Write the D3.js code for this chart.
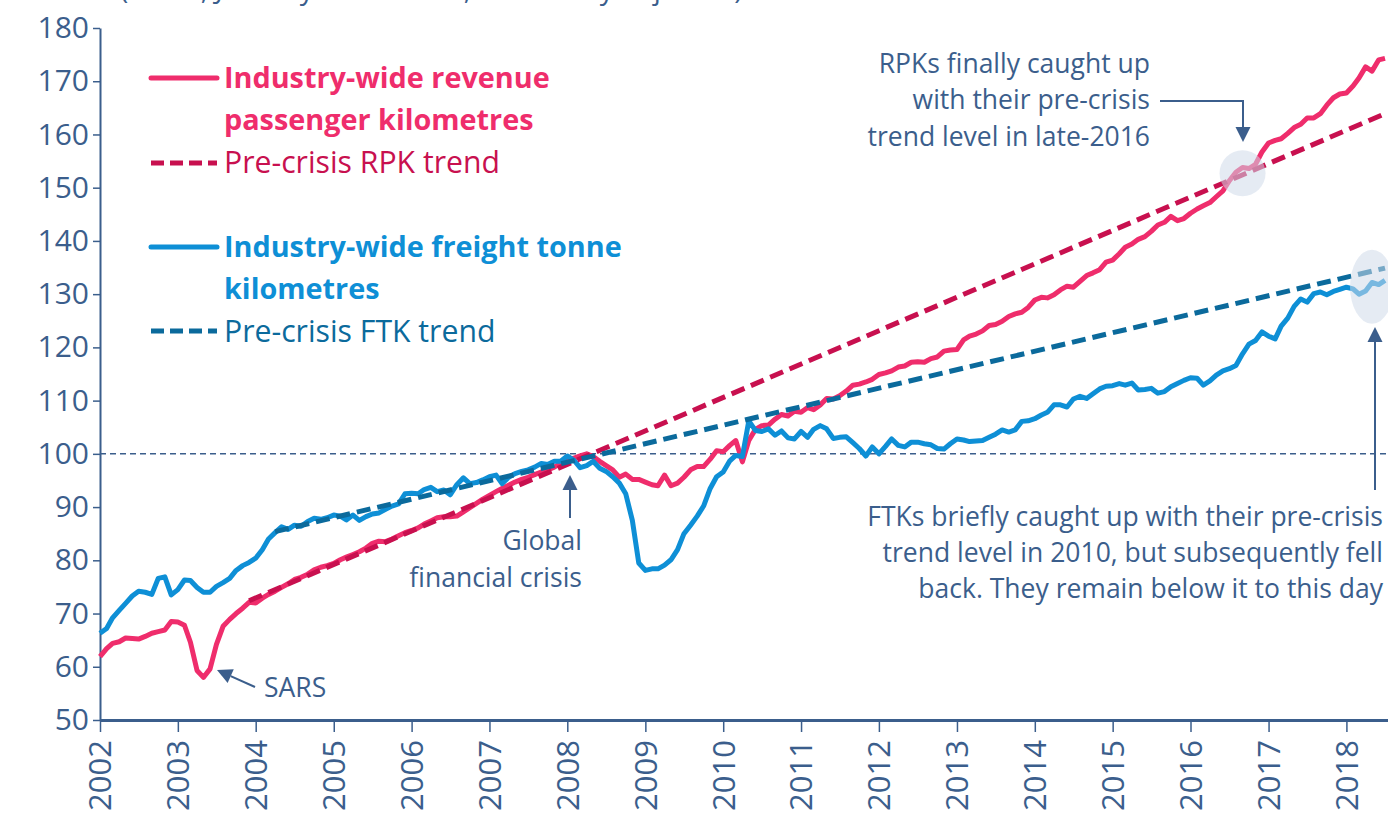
<!DOCTYPE html>
<html>
<head>
<meta charset="utf-8">
<script src="https://cdn.jsdelivr.net/npm/d3@7"></script>
<style>
  body { margin: 0; background: #fff; }
  text { font-family: "Open Sans", sans-serif; }
</style>
</head>
<body>
<script>
// monthly index values, Jan 2002 - Jul 2018 (one row per year)
var rpk = [
  61.9, 63.4, 64.4, 64.7, 65.4, 65.3, 65.2, 65.7, 66.3, 66.6, 66.9, 68.5,
  68.4, 67.8, 64.6, 59.3, 58.0, 59.6, 64.2, 67.6, 68.9, 70.0, 71.0, 72.1,
  72.0, 72.9, 73.6, 74.2, 74.9, 75.6, 76.4, 76.8, 77.4, 78.2, 78.7, 79.0,
  79.4, 80.1, 80.6, 81.1, 81.6, 82.3, 83.2, 83.6, 83.5, 84.0, 84.6, 85.2,
  85.6, 86.1, 86.8, 87.4, 88.0, 88.2, 88.2, 88.3, 89.1, 89.9, 90.7, 91.5,
  92.2, 92.9, 93.5, 94.1, 94.7, 95.2, 95.6, 96.1, 96.6, 97.0, 97.5, 98.2,
  98.8, 99.2, 99.6, 100.0, 99.5, 98.6, 97.8, 97.0, 95.6, 96.2, 95.2, 95.2,
  94.7, 94.2, 94.0, 96.0, 94.0, 94.5, 95.6, 97.0, 97.6, 97.6, 99.0, 100.6,
  100.4, 101.6, 102.5, 98.5, 102.5, 104.6, 105.3, 105.4, 106.5, 107.4, 107.1, 108.0,
  107.8, 108.7, 108.3, 109.2, 110.4, 110.3, 110.9, 111.8, 112.9, 113.1, 113.5, 114.0,
  114.9, 115.2, 115.6, 116.3, 116.5, 117.2, 117.3, 117.2, 117.9, 118.2, 119.3, 119.5,
  119.6, 121.4, 122.1, 122.5, 123.1, 124.1, 124.3, 124.9, 125.8, 126.3, 126.6, 127.5,
  128.9, 129.4, 129.3, 129.9, 130.8, 131.5, 131.3, 132.4, 133.5, 134.0, 134.6, 136.0,
  136.4, 137.6, 138.8, 139.4, 140.3, 140.8, 141.8, 143.0, 143.5, 144.6, 143.8, 144.2,
  145.2, 146.0, 146.6, 147.2, 148.3, 149.4, 151.3, 152.9, 153.8, 153.6, 154.4, 156.7,
  158.4, 158.9, 159.2, 160.2, 161.3, 161.9, 163.1, 163.1, 163.9, 165.5, 166.9, 167.6,
  167.8, 169.1, 170.6, 172.7, 171.9, 174.0, 174.3
];
var ftk = [
  66.3, 67.2, 69.2, 70.6, 71.9, 73.3, 74.2, 74.0, 73.6, 76.6, 76.9, 73.5,
  74.5, 76.3, 76.2, 74.9, 74.0, 74.0, 75.1, 75.8, 76.6, 78.1, 79.0, 79.6,
  80.4, 82.0, 84.0, 85.2, 86.3, 85.8, 86.6, 86.4, 87.3, 87.9, 87.7, 88.0,
  88.5, 88.3, 87.6, 88.5, 87.5, 88.2, 88.7, 88.9, 89.6, 90.2, 90.6, 92.5,
  92.6, 92.5, 93.3, 93.7, 92.9, 93.2, 92.3, 94.2, 95.5, 94.4, 94.6, 95.1,
  95.7, 96.0, 94.4, 95.6, 96.3, 96.7, 97.0, 97.5, 98.2, 98.0, 98.6, 98.6,
  99.6, 98.8, 97.4, 97.8, 98.6, 97.3, 96.7, 95.7, 94.5, 92.5, 87.5, 79.5,
  78.1, 78.4, 78.4, 79.1, 80.1, 82.0, 85.0, 86.6, 88.3, 90.2, 93.5, 95.7,
  96.6, 98.7, 99.7, 99.5, 106.2, 104.4, 104.2, 104.7, 103.5, 104.3, 103.0, 102.8,
  104.2, 103.1, 104.6, 105.3, 104.7, 102.9, 103.1, 103.2, 102.1, 101.0, 99.6, 101.3,
  100.0, 101.4, 102.8, 101.6, 101.3, 102.2, 102.2, 101.9, 101.7, 101.0, 100.9, 101.9,
  102.8, 102.6, 102.3, 102.4, 102.5, 103.1, 103.7, 104.5, 104.1, 104.5, 106.1, 106.2,
  106.6, 107.3, 107.8, 109.2, 109.2, 108.8, 110.3, 110.8, 110.4, 111.3, 112.2, 112.7,
  112.8, 113.2, 112.9, 113.3, 112.0, 112.1, 112.3, 111.4, 111.7, 112.6, 113.2, 113.8,
  114.3, 114.2, 112.9, 113.7, 114.8, 115.6, 116.0, 116.6, 118.8, 120.6, 121.3, 122.9,
  122.1, 121.6, 124.0, 125.5, 127.7, 129.1, 128.5, 130.1, 130.4, 129.9, 130.5, 130.9,
  131.3, 131.0, 130.0, 130.6, 132.2, 131.8, 132.6
];

// pre-crisis trend lines: start and end month, start and end value
var rpkTrendMonths = ["2003-12", "2018-07"];
var rpkTrendValues = [72.4, 163.9];
var ftkTrendMonths = ["2004-04", "2018-07"];
var ftkTrendValues = [85.4, 134.9];

var yTicks = [50, 60, 70, 80, 90, 100, 110, 120, 130, 140, 150, 160, 170, 180];
var yearTicks = [2002, 2003, 2004, 2005, 2006, 2007, 2008, 2009, 2010,
                 2011, 2012, 2013, 2014, 2015, 2016, 2017, 2018];

var months = d3.timeMonth.range(new Date(2002, 0, 1), new Date(2018, 7, 1));
var parseMonth = d3.timeParse("%Y-%m");

//Width and height
var w = 1388;
var h = 815;

var navy = "#3b5e8c";
var pink = "#ef2d6c";
var crimson = "#c8104f";
var blue = "#0e8fd6";
var teal = "#0b6a9c";

var x = d3.scaleTime()
    .domain([new Date(2002, 0, 1), new Date(2018, 6, 15)])
    .range([100, 1388]);

var y = d3.scaleLinear()
    .domain([50, 180])
    .range([720, 28]);

var svg = d3.select("body")
    .append("svg")
    .attr("width", w)
    .attr("height", h);

// title, almost entirely above the visible area
svg.append("text")
    .attr("x", 120)
    .attr("y", -1)
    .attr("font-size", 28)
    .attr("fill", navy)
    .text("(Index, January 2008 = 100, seasonally adjusted)");

// 100 reference line
svg.append("line")
    .attr("x1", x.range()[0]).attr("x2", x.range()[1])
    .attr("y1", y(100)).attr("y2", y(100))
    .attr("stroke", navy)
    .attr("stroke-width", 1.5)
    .attr("stroke-dasharray", "6,4");

// y axis
var yAxis = svg.append("g")
    .attr("transform", "translate(100,0)")
    .call(d3.axisLeft(y).tickValues(yTicks).tickSize(7).tickSizeOuter(0).tickPadding(4));
yAxis.select(".domain").attr("stroke", navy).attr("stroke-width", 2);
yAxis.selectAll(".tick line").attr("stroke", navy).attr("stroke-width", 1.5);
yAxis.selectAll(".tick text")
    .attr("fill", navy)
    .attr("font-size", 30)
    .attr("font-family", "Open Sans");

// x axis
var xAxis = svg.append("g")
    .attr("transform", "translate(0,720)")
    .call(d3.axisBottom(x)
        .tickValues(yearTicks.map(function(d) { return new Date(d, 0, 1); }))
        .tickFormat(d3.timeFormat("%Y"))
        .tickSize(12).tickSizeOuter(0));
xAxis.select(".domain").attr("stroke", navy).attr("stroke-width", 3);
xAxis.selectAll(".tick line").attr("stroke", navy).attr("stroke-width", 1.5);
xAxis.selectAll(".tick text")
    .attr("fill", navy)
    .attr("font-size", 31)
    .attr("font-family", "Open Sans")
    .attr("transform", "rotate(-90)")
    .attr("text-anchor", "end")
    .attr("x", -20)
    .attr("y", 0)
    .attr("dy", "0.35em");

// series
var line = d3.line()
    .x(function(d, i) { return x(months[i]); })
    .y(function(d) { return y(d); });

svg.append("path")
    .datum(rpk)
    .attr("d", line)
    .attr("fill", "none")
    .attr("stroke", pink)
    .attr("stroke-width", 5)
    .attr("stroke-linejoin", "round");

svg.append("path")
    .datum(ftk)
    .attr("d", line)
    .attr("fill", "none")
    .attr("stroke", blue)
    .attr("stroke-width", 5)
    .attr("stroke-linejoin", "round");

var trendLine = d3.line()
    .x(function(d) { return x(parseMonth(d[0])); })
    .y(function(d) { return y(d[1]); });

svg.append("path")
    .datum(d3.zip(rpkTrendMonths, rpkTrendValues))
    .attr("d", trendLine)
    .attr("fill", "none")
    .attr("stroke", crimson)
    .attr("stroke-width", 5)
    .attr("stroke-dasharray", "14,7");

svg.append("path")
    .datum(d3.zip(ftkTrendMonths, ftkTrendValues))
    .attr("d", trendLine)
    .attr("fill", "none")
    .attr("stroke", teal)
    .attr("stroke-width", 5)
    .attr("stroke-dasharray", "14,7");

// highlight circles
svg.append("ellipse")
    .attr("cx", x(new Date(2016, 8, 1))).attr("cy", y(152.7))
    .attr("rx", 23).attr("ry", 23)
    .attr("fill", "#cfdaea").attr("opacity", 0.55);

svg.append("ellipse")
    .attr("cx", x(new Date(2018, 4, 1))).attr("cy", y(131.4))
    .attr("rx", 22).attr("ry", 37)
    .attr("fill", "#cfdaea").attr("opacity", 0.55);

// legend
var legend = svg.append("g");

function legendRow(yPos, color, dashed) {
    legend.append("line")
        .attr("x1", 151).attr("x2", 217)
        .attr("y1", yPos).attr("y2", yPos)
        .attr("stroke", color)
        .attr("stroke-width", 5)
        .attr("stroke-linecap", dashed ? "butt" : "round")
        .attr("stroke-dasharray", dashed ? "13,6" : null);
}

function label(g, xPos, yPos, lines, opts) {
    var t = g.append("text")
        .attr("x", xPos)
        .attr("y", yPos)
        .attr("fill", opts.color)
        .attr("font-size", opts.size)
        .attr("font-weight", opts.bold ? "bold" : "normal")
        .attr("text-anchor", opts.anchor || "start");
    lines.forEach(function(s, i) {
        t.append("tspan")
            .attr("x", xPos)
            .attr("dy", i === 0 ? "0.36em" : opts.lh)
            .text(s);
    });
    return t;
}

legendRow(78, pink, false);
label(legend, 224, 78, ["Industry-wide revenue", "passenger kilometres"],
      {color: pink, size: 28.8, bold: true, lh: 42});
legendRow(163, crimson, true);
label(legend, 224, 162, ["Pre-crisis RPK trend"], {color: crimson, size: 30.2});

legendRow(247, blue, false);
label(legend, 224, 247, ["Industry-wide freight tonne", "kilometres"],
      {color: blue, size: 28.8, bold: true, lh: 42});
legendRow(331, teal, true);
label(legend, 224, 331, ["Pre-crisis FTK trend"], {color: teal, size: 30.2});

// annotations
var notes = svg.append("g");

function arrow(points) {
    var n = points.length;
    var p = points[n - 2], q = points[n - 1];
    var dx = q[0] - p[0], dy = q[1] - p[1];
    var len = Math.sqrt(dx * dx + dy * dy);
    var ux = dx / len, uy = dy / len;
    var head = 15, half = 7.5;
    var bx = q[0] - ux * head, by = q[1] - uy * head;
    var pts = points.slice(0, n - 1).concat([[bx, by]]);
    notes.append("path")
        .attr("d", d3.line()(pts))
        .attr("fill", "none")
        .attr("stroke", navy)
        .attr("stroke-width", 2);
    notes.append("path")
        .attr("d", d3.line()([q, [bx - uy * half, by + ux * half], [bx + uy * half, by - ux * half]]) + "Z")
        .attr("fill", navy);
}

var noteSize = 26.5;

label(notes, 1150, 63, ["RPKs finally caught up", "with their pre-crisis", "trend level in late-2016"],
      {color: navy, size: noteSize, anchor: "end", lh: 36.5});
arrow([[1160, 101], [1243, 101], [1243, 142]]);

label(notes, 1383, 516, ["FTKs briefly caught up with their pre-crisis",
                         "trend level in 2010, but subsequently fell",
                         "back. They remain below it to this day"],
      {color: navy, size: noteSize, anchor: "end", lh: 36});
arrow([[1375, 490], [1375, 327]]);

label(notes, 582, 540, ["Global", "financial crisis"],
      {color: navy, size: noteSize, anchor: "end", lh: 37});
arrow([[570, 518], [570, 475]]);

label(notes, 264, 687, ["SARS"], {color: navy, size: noteSize});
arrow([[255, 687], [217, 670]]);
</script>
</body>
</html>
